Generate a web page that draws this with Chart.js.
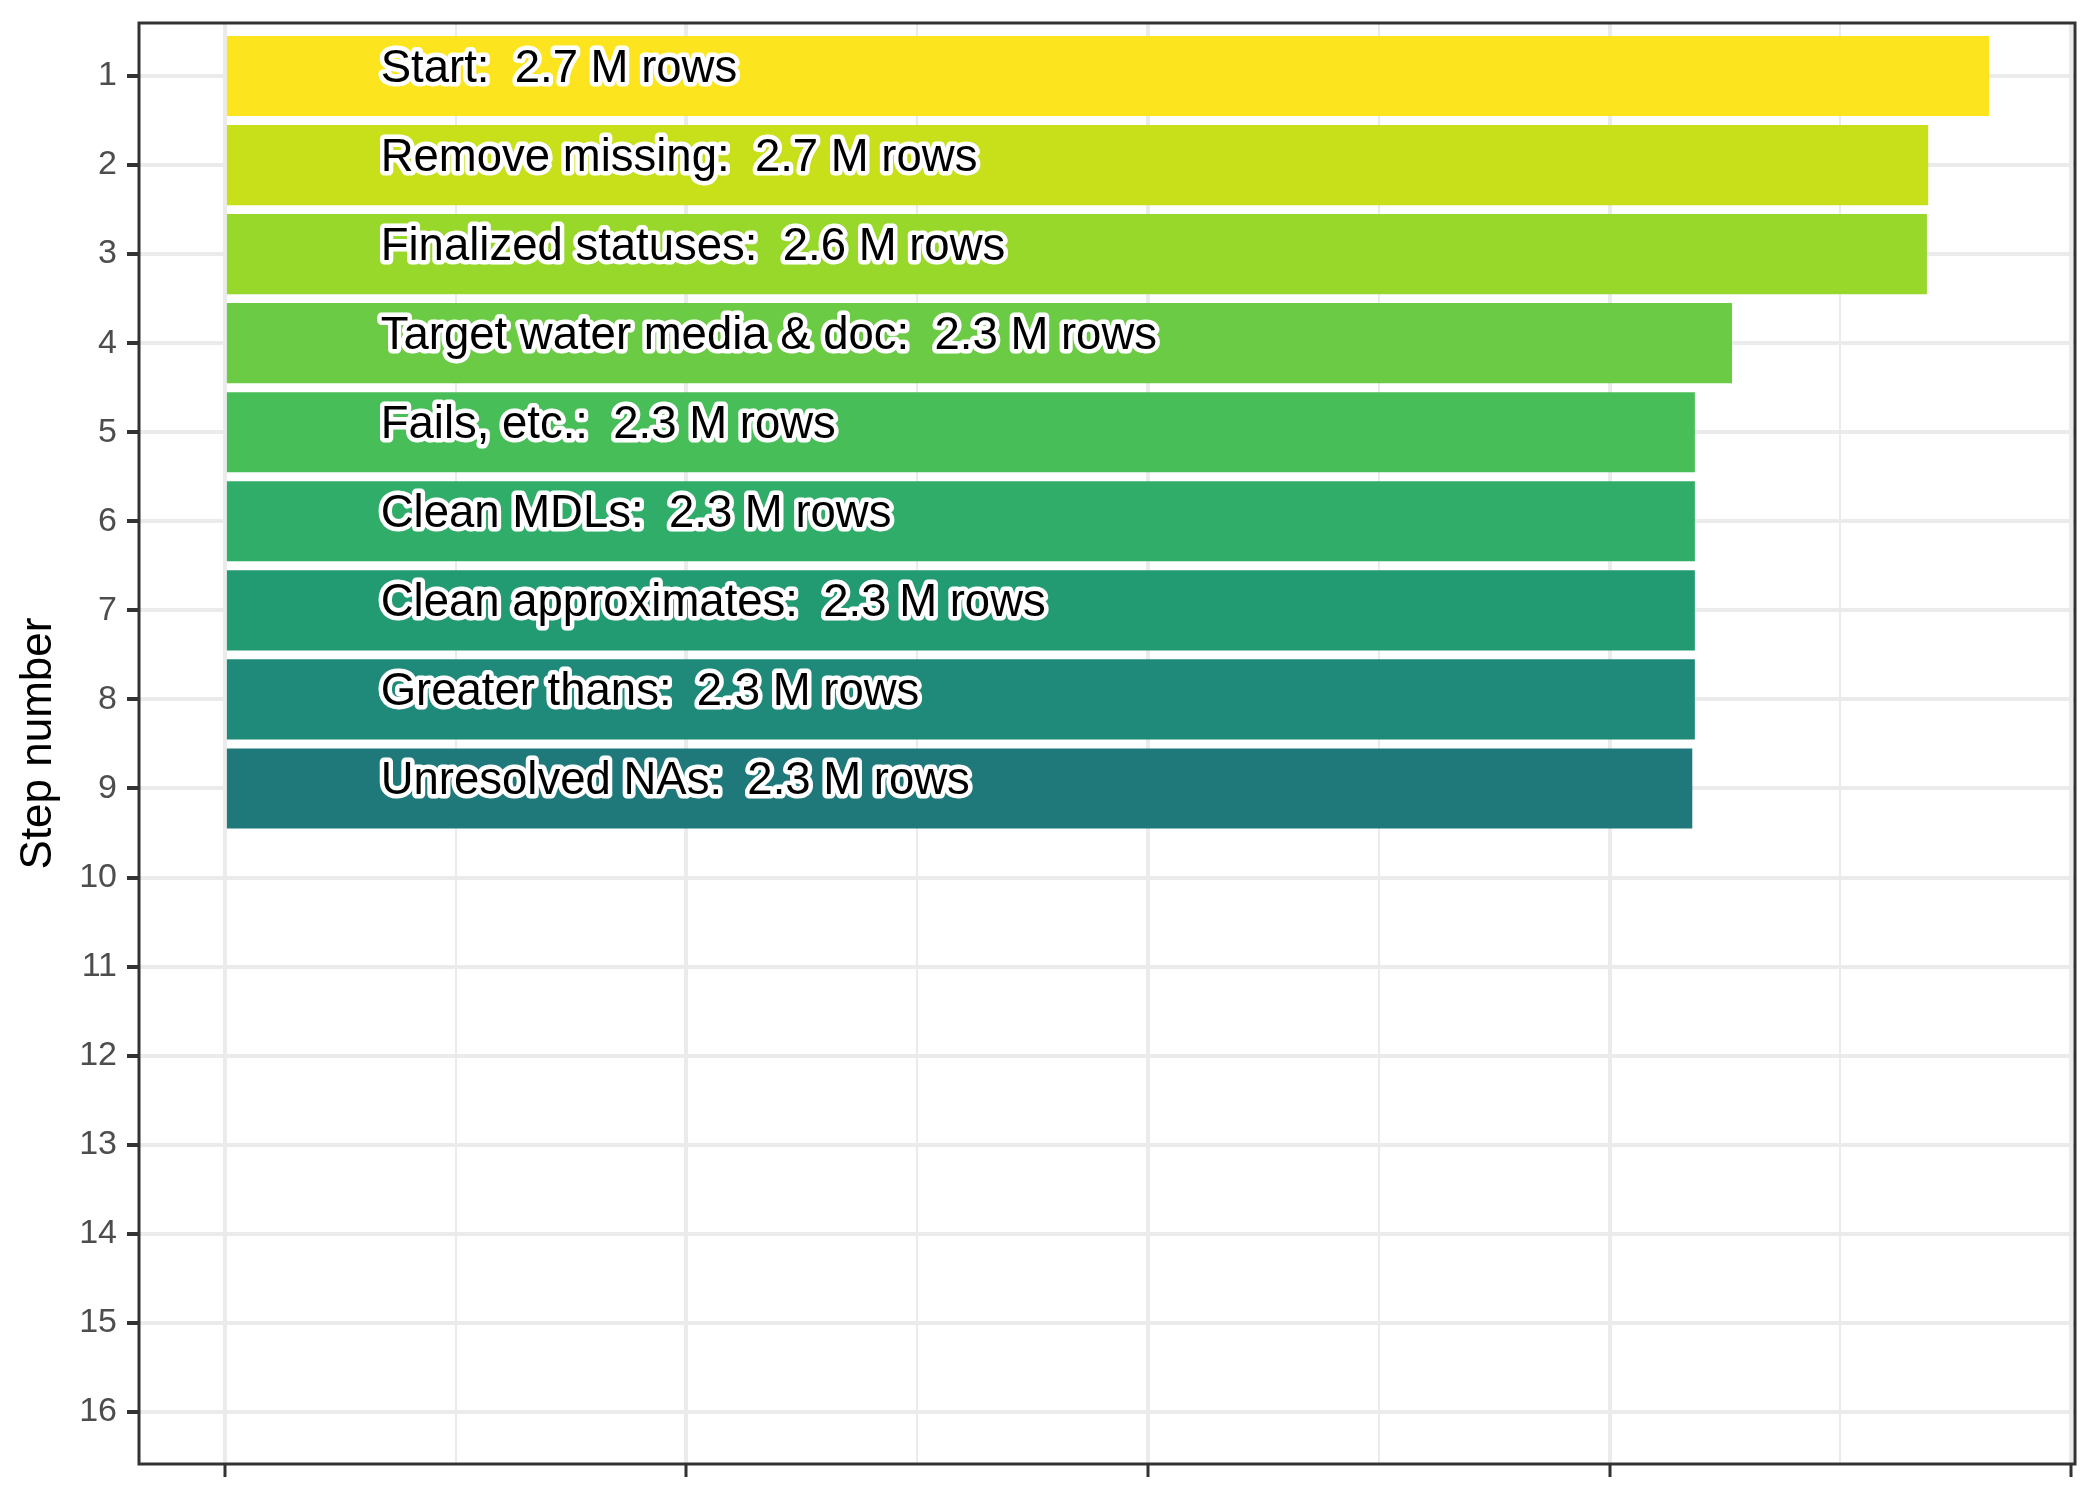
<!DOCTYPE html>
<html>
<head>
<meta charset="utf-8">
<title>Steps</title>
<script src="https://cdn.jsdelivr.net/npm/chart.js@4.4.1/dist/chart.umd.min.js"></script>
<style>
  html, body { margin: 0; padding: 0; background: #ffffff; }
  canvas { display: block; }
</style>
</head>
<body>
<canvas id="chart" width="2100" height="1500"></canvas>
<script>
'use strict';

// data (bar lengths in millions of rows)
const steps = [1, 2, 3, 4, 5, 6, 7, 8, 9];
const stepNames = ['Start', 'Remove missing', 'Finalized statuses', 'Target water media & doc',
  'Fails, etc.', 'Clean MDLs', 'Clean approximates', 'Greater thans', 'Unresolved NAs'];
const rowLabels = ['2.7', '2.7', '2.6', '2.3', '2.3', '2.3', '2.3', '2.3', '2.3'];
const barValues = [2.752, 2.657, 2.655, 2.351, 2.293, 2.293, 2.293, 2.293, 2.289];
const yTicks = [1, 2, 3, 4, 5, 6, 7, 8, 9, 10, 11, 12, 13, 14, 15, 16];
const xTicks = [0, 0.36, 0.72, 1.08, 1.44, 1.8, 2.16, 2.52, 2.88]; //odd ones are minor lines

const barColors = ['#FCE51E', '#C8E01A', '#97D82A', '#6BCB44', '#48BE58',
  '#2FAD69', '#229B73', '#1F8A79', '#1F787A'];

const labelAt = 0.243; // where the text starts, in x units

const canvasEl = document.getElementById('chart');

// black text with a white halo, drawn over the bars
const barLabels = {
  id: 'barLabels',
  afterDatasetsDraw(chart) {
    const ctx = chart.ctx;
    const meta = chart.getDatasetMeta(0);
    let x = chart.scales.x.getPixelForValue(labelAt);
    ctx.save();
    ctx.font = '45.5px "Liberation Sans", Arial, sans-serif';
    ctx.textAlign = 'left';
    ctx.textBaseline = 'alphabetic';
    ctx.lineJoin = 'round';
    meta.data.forEach((bar, i) => {
      let text = stepNames[i] + ':  ' + rowLabels[i] + ' M rows';
      ctx.lineWidth = 9;
      ctx.strokeStyle = '#ffffff';
      ctx.strokeText(text, x, bar.y + 6);
      ctx.fillStyle = '#000000';
      ctx.fillText(text, x, bar.y + 6);
    });
    ctx.restore();
  },
  afterDraw(chart) {
    // panel box like ggplot theme_bw
    const area = chart.chartArea;
    const ctx = chart.ctx;
    ctx.save();
    ctx.strokeStyle = '#333333';
    ctx.lineWidth = 3;
    ctx.strokeRect(area.left, area.top, area.right - area.left, area.bottom - area.top);
    ctx.restore();
  }
};

function drawChart() {
  let data = [];
  steps.forEach((s, i) => {
    data.push({ x: barValues[i], y: s });
  });

  return new Chart(canvasEl, {
    type: 'bar',
    data: {
      datasets: [{
        data: data,
        backgroundColor: barColors,
        borderWidth: 0,
        categoryPercentage: 1,
        barPercentage: 0.9
      }]
    },
    plugins: [barLabels],
    options: {
      indexAxis: 'y',
      responsive: false,
      animation: false,
      devicePixelRatio: 1,
      layout: { padding: { top: 23, right: 25, left: 0, bottom: 0 } },
      plugins: {
        legend: { display: false },
        tooltip: { enabled: false }
      },
      scales: {
        x: {
          type: 'linear',
          min: -0.134,
          max: 2.886,
          afterBuildTicks: scale => {
            scale.ticks = xTicks.map(v => ({ value: v }));
          },
          afterFit: scale => {
            scale.height = 36;
            scale.paddingLeft = 0;
            scale.paddingRight = 0;
          },
          ticks: { display: false },
          border: { display: false },
          grid: {
            color: '#EBEBEB',
            lineWidth: ctx => (ctx.index % 2 === 0 ? 4 : 2),
            drawTicks: true,
            tickLength: 13,
            tickWidth: 3,
            tickColor: ctx => (ctx.index % 2 === 0 ? '#333333' : 'rgba(0,0,0,0)')
          }
        },
        y: {
          type: 'linear',
          reverse: true,
          offset: false,
          min: 0.405,
          max: 16.585,
          afterBuildTicks: scale => {
            scale.ticks = yTicks.map(v => ({ value: v }));
          },
          afterFit: scale => {
            scale.width = 139;
            // labels sit well inside the panel, no overhang needed
            scale.paddingTop = 0;
            scale.paddingBottom = 0;
          },
          border: { display: false },
          grid: {
            offset: false,
            color: '#EBEBEB',
            lineWidth: 4,
            drawTicks: true,
            tickLength: 12,
            tickWidth: 4,
            tickColor: '#333333'
          },
          ticks: {
            padding: 10,
            color: '#4D4D4D',
            font: { family: '"Liberation Sans", Arial, sans-serif', size: 34 },
            callback: v => String(v)
          },
          title: {
            display: true,
            text: 'Step number',
            color: '#000000',
            padding: { top: 12, bottom: 0 },
            font: { family: '"Liberation Sans", Arial, sans-serif', size: 44, lineHeight: 1.2 }
          }
        }
      }
    }
  });
}

let chartObj = drawChart();
</script>
</body>
</html>
